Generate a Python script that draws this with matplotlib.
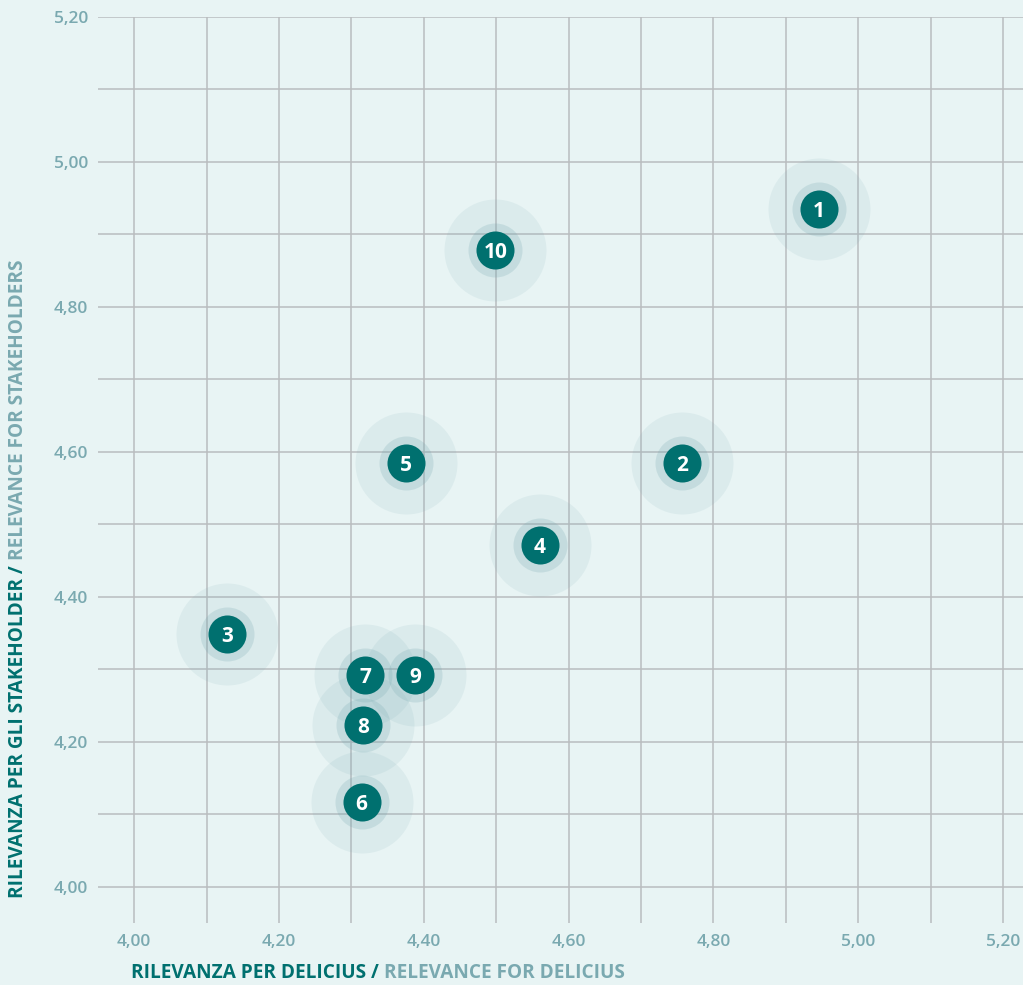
import numpy as np
import matplotlib.pyplot as plt
from matplotlib.ticker import MultipleLocator, FuncFormatter

# data
labels = ["1", "2", "3", "4", "5", "6", "7", "8", "9", "10"]
delicius = [4.946, 4.757, 4.128, 4.560, 4.375, 4.314, 4.319, 4.316, 4.388, 4.499]
stakeholders = [4.935, 4.585, 4.349, 4.472, 4.585, 4.117, 4.292, 4.223, 4.292, 4.879]

BG = "#e8f4f4"
TEAL = "#00706f"
LIGHT = "#7aa9b0"
GRID = "#b9bdbf"
HALO = (120 / 255, 170 / 255, 178 / 255)

plt.rcParams['font.family'] = ['Open Sans', 'DejaVu Sans']


def comma(v, pos):
    return "{:.2f}".format(v).replace(".", ",")


def main():
    fig = plt.figure(figsize=(10.23, 9.85), dpi=100, facecolor=BG)
    ax = fig.add_axes([98 / 1023, 62 / 985, 925 / 1023, 906 / 985])
    ax.set_facecolor(BG)

    ax.set_xlim(3.95, 5.2276)
    ax.set_ylim(3.95, 5.20)
    for s in ax.spines.values():
        s.set_visible(False)

    ax.xaxis.set_major_locator(MultipleLocator(0.2))
    ax.xaxis.set_minor_locator(MultipleLocator(0.1))
    ax.yaxis.set_major_locator(MultipleLocator(0.2))
    ax.yaxis.set_minor_locator(MultipleLocator(0.1))
    ax.xaxis.set_major_formatter(FuncFormatter(comma))
    ax.yaxis.set_major_formatter(FuncFormatter(comma))
    ax.set_xticks([4.0, 4.2, 4.4, 4.6, 4.8, 5.0, 5.2])
    ax.grid(which="both", color=GRID, linewidth=1.1)
    ax.set_axisbelow(True)
    ax.tick_params(which="both", length=0)
    ax.tick_params(axis="x", pad=8, labelsize=12.5, labelcolor=LIGHT)
    ax.tick_params(axis="y", pad=7, labelsize=12.5, labelcolor=LIGHT)
    for t in ax.get_xticklabels() + ax.get_yticklabels():
        t.set_fontweight("semibold")

    # halo, ring, dot
    ax.scatter(delicius, stakeholders, s=5390, color=HALO, alpha=0.115,
               linewidths=0, zorder=3)
    ax.scatter(delicius, stakeholders, s=1512, color=HALO, alpha=0.23,
               linewidths=0, zorder=4)
    ax.scatter(delicius, stakeholders, s=750, color=TEAL, linewidths=0, zorder=5)
    for lab, x, y in zip(labels, delicius, stakeholders):
        ax.text(x, y, lab, color="white", fontsize=15, fontweight="bold",
                ha="center", va="center_baseline", zorder=6)

    # axis titles in two colours
    t1 = fig.text(131 / 1023, 1.5 / 985, "RILEVANZA PER DELICIUS / ",
                  color=TEAL, fontsize=13.7, fontweight="bold",
                  ha="left", va="bottom")
    ax.annotate("RELEVANCE FOR DELICIUS", xy=(1, 0), xycoords=t1,
                color=LIGHT, fontsize=13.7, fontweight="bold",
                ha="left", va="bottom")

    t2 = fig.text(18 / 1023, 1 - 898 / 985, "RILEVANZA PER GLI STAKEHOLDER / ",
                  color=TEAL, fontsize=13.7, fontweight="bold", rotation=90,
                  ha="center", va="bottom")
    ax.annotate("RELEVANCE FOR STAKEHOLDERS", xy=(0.5, 1), xycoords=t2,
                color=LIGHT, fontsize=13.7, fontweight="bold", rotation=90,
                ha="center", va="bottom")

    fig.savefig("out.png", dpi=100, facecolor=BG)


if __name__ == "__main__":
    main()
